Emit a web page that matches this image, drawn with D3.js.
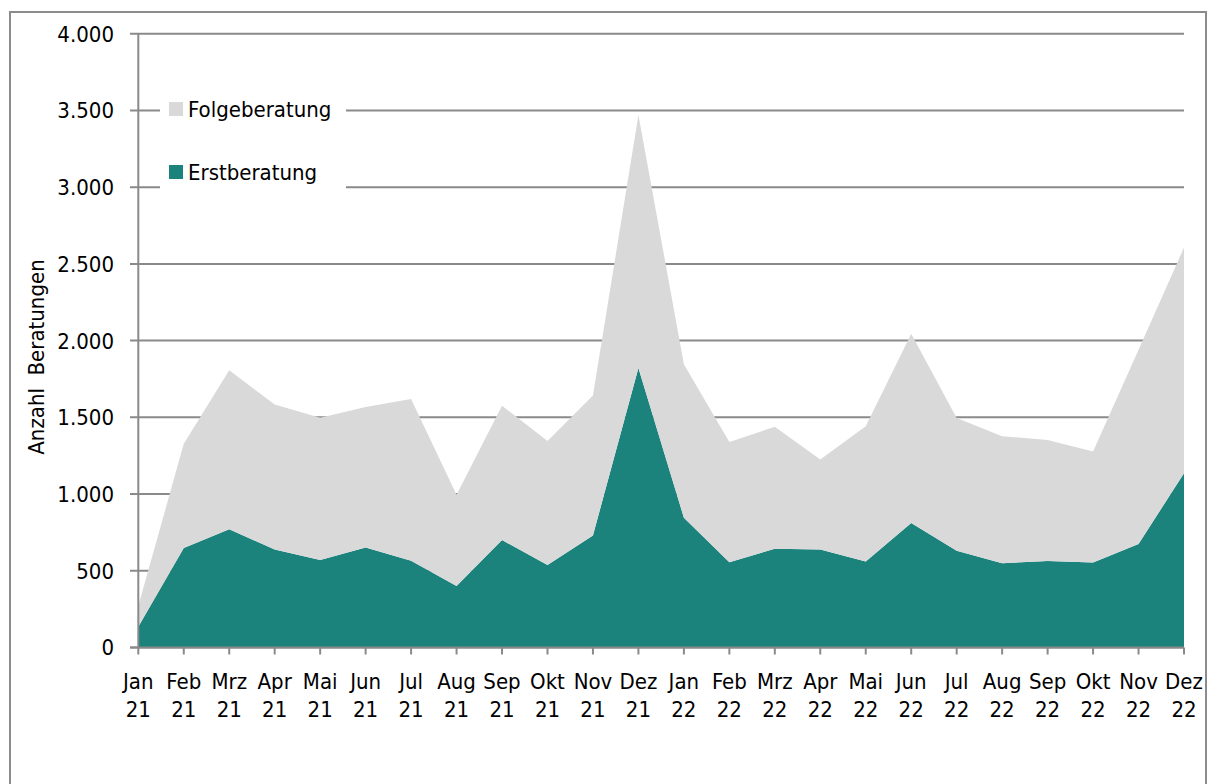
<!DOCTYPE html>
<html><head><meta charset="utf-8">
<script src="https://cdn.jsdelivr.net/npm/d3@7"></script>
<style>html,body{margin:0;padding:0;background:#fff;}svg{display:block;}
text{font-family:"DejaVu Sans Condensed","DejaVu Sans",sans-serif;font-stretch:condensed;}</style>
</head><body>
<script>
const months = ["Jan","Feb","Mrz","Apr","Mai","Jun","Jul","Aug","Sep","Okt","Nov","Dez","Jan","Feb","Mrz","Apr","Mai","Jun","Jul","Aug","Sep","Okt","Nov","Dez"];
const years = ["21","21","21","21","21","21","21","21","21","21","21","21","22","22","22","22","22","22","22","22","22","22","22","22"];
const erstberatung = [135,648,770,639,570,652,565,400,700,537,730,1822,846,556,643,638,561,812,631,549,563,554,674,1136];
const folgeberatung = [135,680,1037,944,928,915,1054,595,876,808,913,1649,1000,783,795,587,881,1232,865,828,790,724,1266,1470];
const yTicks = [0,500,1000,1500,2000,2500,3000,3500,4000];
const seriesNames = ["Erstberatung","Folgeberatung"];
const colors = {Erstberatung:"#1b837c", Folgeberatung:"#d9d9d9"};

const W=1209,H=784;
const svg=d3.select("body").append("svg").attr("width",W).attr("height",H);
const fs=22;

svg.append("rect").attr("x",10).attr("y",12).attr("width",1196).attr("height",800)
  .attr("fill","none").attr("stroke","#8c8c8c").attr("stroke-width",2);

const x0=138.3, x1=1184, yTop=33.7, yBot=647.5;
const x=d3.scalePoint().domain(d3.range(months.length)).range([x0,x1]);
const y=d3.scaleLinear().domain([0,4000]).range([yBot,yTop]);

svg.append("g").selectAll("line").data(yTicks).join("line")
  .attr("x1",130).attr("x2",x1).attr("y1",d=>y(d)).attr("y2",d=>y(d))
  .attr("stroke","#8a8a8a").attr("stroke-width",2);

const table=months.map((m,i)=>({i,Erstberatung:erstberatung[i],Folgeberatung:folgeberatung[i]}));
const stacked=d3.stack().keys(seriesNames)(table);
const area=d3.area().x(d=>x(d.data.i)).y0(d=>y(d[0])).y1(d=>y(d[1]));
svg.append("g").selectAll("path").data(stacked).join("path")
  .attr("d",area).attr("fill",d=>colors[d.key]);

svg.append("line").attr("x1",x0).attr("x2",x0).attr("y1",yTop).attr("y2",yBot+1)
  .attr("stroke","#8a8a8a").attr("stroke-width",2);
svg.append("line").attr("x1",130).attr("x2",x1).attr("y1",yBot).attr("y2",yBot)
  .attr("stroke","#8a8a8a").attr("stroke-width",2);
svg.append("g").selectAll("text").data(yTicks).join("text")
  .attr("x",114).attr("y",d=>y(d)).attr("dy","0.36em").attr("text-anchor","end")
  .attr("font-size",fs).attr("fill","#000")
  .text(d=>d3.format(",")(d).replace(/,/g,"."));

svg.append("g").selectAll("line").data(d3.range(months.length)).join("line")
  .attr("x1",d=>x(d)).attr("x2",d=>x(d)).attr("y1",yBot).attr("y2",yBot+7)
  .attr("stroke","#8a8a8a").attr("stroke-width",2);
const xl=svg.append("g").selectAll("text").data(d3.range(months.length)).join("text")
  .attr("text-anchor","middle").attr("font-size",fs).attr("fill","#000");
xl.append("tspan").attr("x",d=>x(d)).attr("y",689).text(d=>months[d]);
xl.append("tspan").attr("x",d=>x(d)).attr("y",717).text(d=>years[d]);

svg.append("text").attr("transform","translate(44,357) rotate(-90)")
  .attr("text-anchor","middle").attr("font-size",fs)
  .style("white-space","pre").text("Anzahl  Beratungen");

const lg=svg.append("g");
lg.append("rect").attr("x",160).attr("y",88).attr("width",186).attr("height",110).attr("fill","#fff");
const legendItems=[{k:"Folgeberatung",y:102},{k:"Erstberatung",y:165}];
lg.selectAll("rect.sw").data(legendItems).join("rect").attr("class","sw")
  .attr("x",169).attr("y",d=>d.y).attr("width",14).attr("height",14).attr("fill",d=>colors[d.k]);
lg.selectAll("text").data(legendItems).join("text")
  .attr("x",188).attr("y",d=>d.y+7).attr("dy","0.36em")
  .attr("font-size",fs).text(d=>d.k);
</script>
</body></html>
